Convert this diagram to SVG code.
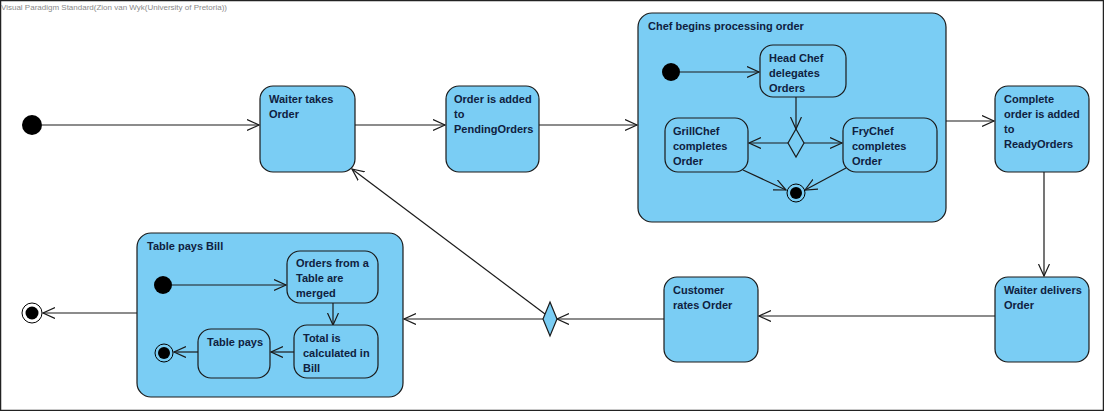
<svg xmlns="http://www.w3.org/2000/svg" width="1104" height="411" viewBox="0 0 1104 411">
<style>
.n{fill:#7acdf4;stroke:#1a1a1a;stroke-width:1.2}
.t{font-family:"Liberation Sans",Arial,sans-serif;font-size:11px;font-weight:bold;fill:#0f2140}
.c{fill:none;stroke:#1a1a1a;stroke-width:1.2}
.dot{fill:#000}
.ring{fill:none;stroke:#000;stroke-width:1}
</style>
<defs>
<marker id="a" markerUnits="userSpaceOnUse" markerWidth="14" markerHeight="14" refX="12" refY="6" orient="auto">
<path d="M0,0.5 L12,6 L0,11.5" fill="none" stroke="#1a1a1a" stroke-width="1.2"/>
</marker>
</defs>
<rect x="0.5" y="0.5" width="1103" height="410" fill="#fff" stroke="#222" stroke-width="1.5"/>
<text x="1" y="10" font-family="'Liberation Sans',Arial,sans-serif" font-size="8" fill="#8a8a8a" textLength="226" lengthAdjust="spacingAndGlyphs">Visual Paradigm Standard(Zion van Wyk(University of Pretoria))</text>

<g id="chef">
<rect class="n" x="638" y="13" width="308" height="209" rx="14"/>
<text class="t" x="648" y="30">Chef begins processing order</text>
</g>
<g id="bill">
<rect class="n" x="137" y="233" width="266" height="164" rx="14"/>
<text class="t" x="147" y="250">Table pays Bill</text>
</g>

<g id="connectors">
<line class="c" x1="42" y1="125" x2="259" y2="125" marker-end="url(#a)"/>
<line class="c" x1="355" y1="125" x2="445" y2="125" marker-end="url(#a)"/>
<line class="c" x1="539" y1="125" x2="637" y2="125" marker-end="url(#a)"/>
<line class="c" x1="946" y1="121" x2="994" y2="121" marker-end="url(#a)"/>
<line class="c" x1="1044" y1="172" x2="1044" y2="276" marker-end="url(#a)"/>
<line class="c" x1="995" y1="316" x2="759" y2="316" marker-end="url(#a)"/>
<line class="c" x1="664" y1="319" x2="557" y2="319" marker-end="url(#a)"/>
<line class="c" x1="543" y1="319" x2="404" y2="319" marker-end="url(#a)"/>
<line class="c" x1="545" y1="314" x2="352" y2="169" marker-end="url(#a)"/>
<line class="c" x1="137" y1="313" x2="43" y2="313" marker-end="url(#a)"/>
<line class="c" x1="680" y1="72" x2="759" y2="72" marker-end="url(#a)"/>
<line class="c" x1="796" y1="97" x2="796" y2="129" marker-end="url(#a)"/>
<line class="c" x1="788" y1="143" x2="749" y2="143" marker-end="url(#a)"/>
<line class="c" x1="804" y1="143" x2="842" y2="143" marker-end="url(#a)"/>
<line class="c" x1="743" y1="170" x2="786" y2="190" marker-end="url(#a)"/>
<line class="c" x1="846" y1="168" x2="805" y2="190" marker-end="url(#a)"/>
<line class="c" x1="172" y1="285" x2="286" y2="285" marker-end="url(#a)"/>
<line class="c" x1="333" y1="303" x2="333" y2="325" marker-end="url(#a)"/>
<line class="c" x1="294" y1="352" x2="271" y2="352" marker-end="url(#a)"/>
<line class="c" x1="198" y1="352" x2="174" y2="352" marker-end="url(#a)"/>
</g>

<g id="start"><circle class="dot" cx="32" cy="125" r="10"/></g>
<g id="waiterTakes">
<rect class="n" x="260" y="86" width="95" height="86" rx="13"/>
<text class="t" x="269" y="103">Waiter takes</text>
<text class="t" x="269" y="118">Order</text>
</g>
<g id="pending">
<rect class="n" x="446" y="86" width="93" height="86" rx="13"/>
<text class="t" x="454" y="103">Order is added</text>
<text class="t" x="454" y="118">to</text>
<text class="t" x="454" y="133">PendingOrders</text>
</g>
<g id="chefStart"><circle class="dot" cx="671" cy="72" r="9"/></g>
<g id="headChef">
<rect class="n" x="760" y="45" width="86" height="52" rx="13"/>
<text class="t" x="769" y="62">Head Chef</text>
<text class="t" x="769" y="77">delegates</text>
<text class="t" x="769" y="92">Orders</text>
</g>
<g id="chefDecision"><polygon class="n" points="796,129 804,143 796,157 788,143"/></g>
<g id="grill">
<rect class="n" x="665" y="118" width="83" height="54" rx="13"/>
<text class="t" x="673" y="135">GrillChef</text>
<text class="t" x="673" y="150">completes</text>
<text class="t" x="673" y="165">Order</text>
</g>
<g id="fry">
<rect class="n" x="843" y="118" width="94" height="54" rx="13"/>
<text class="t" x="852" y="135">FryChef</text>
<text class="t" x="852" y="150">completes</text>
<text class="t" x="852" y="165">Order</text>
</g>
<g id="chefEnd"><circle class="ring" cx="796" cy="193" r="9"/><circle class="dot" cx="796" cy="193" r="6"/></g>
<g id="ready">
<rect class="n" x="995" y="86" width="94" height="86" rx="13"/>
<text class="t" x="1004" y="103">Complete</text>
<text class="t" x="1004" y="118">order is added</text>
<text class="t" x="1004" y="133">to</text>
<text class="t" x="1004" y="148">ReadyOrders</text>
</g>
<g id="delivers">
<rect class="n" x="995" y="277" width="94" height="85" rx="13"/>
<text class="t" x="1004" y="294">Waiter delivers</text>
<text class="t" x="1004" y="309">Order</text>
</g>
<g id="rates">
<rect class="n" x="664" y="277" width="94" height="85" rx="13"/>
<text class="t" x="673" y="294">Customer</text>
<text class="t" x="673" y="309">rates Order</text>
</g>
<g id="decision"><polygon class="n" points="550,302 557,319 550,336 543,319"/></g>
<g id="billStart"><circle class="dot" cx="163" cy="285" r="9"/></g>
<g id="merged">
<rect class="n" x="287" y="251" width="91" height="52" rx="13"/>
<text class="t" x="296" y="267">Orders from a</text>
<text class="t" x="296" y="282">Table are</text>
<text class="t" x="296" y="297">merged</text>
</g>
<g id="total">
<rect class="n" x="294" y="325" width="84" height="53" rx="13"/>
<text class="t" x="303" y="342">Total is</text>
<text class="t" x="303" y="357">calculated in</text>
<text class="t" x="303" y="372">Bill</text>
</g>
<g id="tablePays">
<rect class="n" x="198" y="329" width="72" height="49" rx="13"/>
<text class="t" x="207" y="346">Table pays</text>
</g>
<g id="billEnd"><circle class="ring" cx="164" cy="353" r="9"/><circle class="dot" cx="164" cy="353" r="6"/></g>
<g id="end"><circle class="ring" cx="32" cy="313" r="10"/><circle class="dot" cx="32" cy="313" r="6.5"/></g>
</svg>
